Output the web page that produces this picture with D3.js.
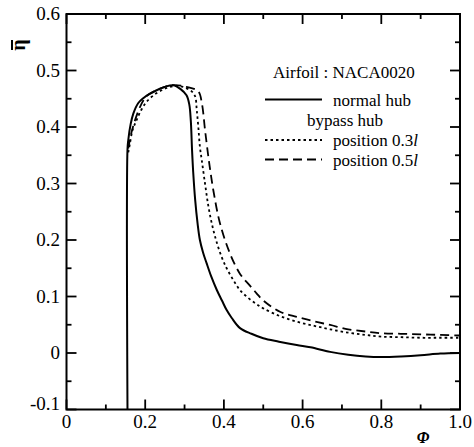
<!DOCTYPE html>
<html>
<head>
<meta charset="utf-8">
<script src="https://cdn.jsdelivr.net/npm/d3@7"></script>
<style>
  html, body { margin: 0; padding: 0; background: #fff; }
  svg { display: block; }
  text { font-family: 'Liberation Serif', 'Times New Roman', 'DejaVu Serif', serif; }
</style>
</head>
<body>
<svg id="chart" width="474" height="447"></svg>
<script>
// normal hub (solid)
const normalHub = [
  [0.155, -0.1], [0.155, 0.36], [0.157, 0.377], [0.163, 0.405], [0.170, 0.424], [0.182, 0.442],
  [0.195, 0.451], [0.21, 0.458], [0.229, 0.465], [0.25, 0.471], [0.271, 0.474], [0.29, 0.467],
  [0.305, 0.456], [0.312, 0.44], [0.316, 0.41], [0.319, 0.36], [0.322, 0.32], [0.327, 0.271],
  [0.333, 0.23], [0.339, 0.2], [0.347, 0.178], [0.356, 0.159], [0.368, 0.135], [0.382, 0.1115],
  [0.395, 0.093], [0.407, 0.076], [0.42, 0.062], [0.441, 0.044], [0.47, 0.034], [0.5, 0.026],
  [0.54, 0.02], [0.585, 0.014], [0.62, 0.01], [0.67, 0.002], [0.716, -0.003], [0.76, -0.006],
  [0.8, -0.007], [0.85, -0.006], [0.9, -0.004], [0.95, -0.001], [1.0, 0.0]
]

// bypass hub, position 0.3l (dotted)
const bypass03 = [
  [0.157, 0.355], [0.161, 0.37], [0.168, 0.395], [0.178, 0.412], [0.19, 0.43], [0.204, 0.445],
  [0.229, 0.46], [0.255, 0.469], [0.28, 0.473], [0.3, 0.47], [0.318, 0.463], [0.327, 0.454],
  [0.331, 0.43], [0.335, 0.4], [0.339, 0.365], [0.344, 0.34], [0.352, 0.3], [0.36, 0.262],
  [0.369, 0.23], [0.38, 0.2], [0.394, 0.1705], [0.407, 0.15], [0.424, 0.129], [0.44, 0.112],
  [0.458, 0.0997], [0.48, 0.088], [0.5, 0.079], [0.54, 0.066], [0.585, 0.0554], [0.63, 0.048],
  [0.67, 0.042], [0.716, 0.036], [0.76, 0.032], [0.8, 0.029], [0.85, 0.028], [0.9, 0.027],
  [0.95, 0.027], [1.0, 0.027]
]

// bypass hub, position 0.5l (dashed)
const bypass05 = [
  [0.157, 0.362], [0.165, 0.39], [0.177, 0.418], [0.19, 0.44], [0.204, 0.455], [0.238, 0.468],
  [0.27, 0.474], [0.305, 0.471], [0.335, 0.463], [0.344, 0.442], [0.352, 0.395], [0.36, 0.35],
  [0.366, 0.32], [0.373, 0.2885], [0.39, 0.2296], [0.4155, 0.176], [0.441, 0.14], [0.465, 0.12],
  [0.483, 0.1057], [0.5, 0.093], [0.5426, 0.073], [0.585, 0.064], [0.63, 0.056], [0.67, 0.0496],
  [0.716, 0.042], [0.76, 0.038], [0.8, 0.035], [0.85, 0.034], [0.9, 0.033], [0.95, 0.032],
  [1.0, 0.031]
]

const xTickLabels = ['0', '0.2', '0.4', '0.6', '0.8', '1.0']
const yTickLabels = ['-0.1', '0', '0.1', '0.2', '0.3', '0.4', '0.5', '0.6']

const series = [
  { name: 'normal hub', data: normalHub, dash: null },
  { name: 'position 0.3', data: bypass03, dash: '2.5,3' },
  { name: 'position 0.5', data: bypass05, dash: '9,5' }
]

const svg = d3.select('#chart')
const margin = { left: 66.5, right: 14, top: 14, bottom: 37.5 }
const W = 474, H = 447

const x = d3.scaleLinear().domain([0, 1]).range([margin.left, W - margin.right])
const y = d3.scaleLinear().domain([-0.1, 0.6]).range([H - margin.bottom, margin.top])

// 曲线
const line = d3.line().x(d => x(d[0])).y(d => y(d[1])).curve(d3.curveCatmullRom.alpha(0.5))

svg.append('g')
  .selectAll('path')
  .data(series)
  .join('path')
  .attr('d', d => line(d.data))
  .attr('fill', 'none')
  .attr('stroke', '#000')
  .attr('stroke-width', d => d.dash ? 1.8 : 2)
  .attr('stroke-dasharray', d => d.dash)

// 坐标轴 (刻度朝内)
const xMajor = d3.range(0, 1.0001, 0.2)
const xMinor = d3.range(0.1, 1, 0.2)
const yMajor = d3.range(-0.1, 0.6001, 0.1)
const yMinor = d3.range(-0.05, 0.6, 0.1)

const ticks = svg.append('g').attr('stroke', '#000').attr('stroke-width', 1.8)
const yBottom = y(-0.1), yTop = y(0.6), xLeft = x(0), xRight = x(1)

xMajor.concat(xMinor).forEach(v => {
  const len = xMinor.includes(v) ? 5 : 10
  ticks.append('line').attr('x1', x(v)).attr('x2', x(v)).attr('y1', yBottom).attr('y2', yBottom - len)
  ticks.append('line').attr('x1', x(v)).attr('x2', x(v)).attr('y1', yTop).attr('y2', yTop + len)
})
yMajor.forEach(v => {
  ticks.append('line').attr('y1', y(v)).attr('y2', y(v)).attr('x1', xLeft).attr('x2', xLeft + 10)
  ticks.append('line').attr('y1', y(v)).attr('y2', y(v)).attr('x1', xRight).attr('x2', xRight - 10)
})
yMinor.forEach(v => {
  ticks.append('line').attr('y1', y(v)).attr('y2', y(v)).attr('x1', xLeft).attr('x2', xLeft + 5)
  ticks.append('line').attr('y1', y(v)).attr('y2', y(v)).attr('x1', xRight).attr('x2', xRight - 5)
})

svg.append('rect')
  .attr('x', xLeft).attr('y', yTop)
  .attr('width', xRight - xLeft).attr('height', yBottom - yTop)
  .attr('fill', 'none').attr('stroke', '#000').attr('stroke-width', 2)

// 刻度文字
svg.append('g')
  .selectAll('text')
  .data(xTickLabels)
  .join('text')
  .attr('x', d => x(+d))
  .attr('y', 428)
  .attr('text-anchor', 'middle')
  .attr('font-size', '19px')
  .text(d => d)

svg.append('g')
  .selectAll('text')
  .data(yTickLabels)
  .join('text')
  .attr('x', 60)
  .attr('y', d => y(+d) + (d === '-0.1' ? 0 : 6))
  .attr('text-anchor', 'end')
  .attr('font-size', '19px')
  .text(d => d)

// 轴标题: 竖排 η 加上划线
const etaLabel = svg.append('g').attr('transform', 'translate(25,45) rotate(-90)')
etaLabel.append('text')
  .attr('x', 0)
  .attr('y', 0)
  .attr('text-anchor', 'middle')
  .attr('font-size', '20px')
  .attr('font-weight', 'bold')
  .text('\u03B7')
etaLabel.append('line')
  .attr('x1', -5).attr('x2', 5).attr('y1', -13).attr('y2', -13)
  .attr('stroke', '#000').attr('stroke-width', 2)

svg.append('text')
  .attr('x', 423)
  .attr('y', 443)
  .attr('text-anchor', 'middle')
  .attr('font-size', '16px')
  .attr('font-weight', 'bold')
  .attr('font-style', 'italic')
  .text('\u03A6')

// 图例
const legend = svg.append('g').attr('font-size', '17px')
legend.append('text').attr('x', 273).attr('y', 78).text('Airfoil : NACA0020')
legend.append('text').attr('x', 307).attr('y', 126).text('bypass hub')

const legendRows = [
  { s: series[0], y: 99.5, label: 'normal hub', italic: '' },
  { s: series[1], y: 140, label: 'position 0.3', italic: 'l' },
  { s: series[2], y: 159.5, label: 'position 0.5', italic: 'l' }
]
legendRows.forEach(r => {
  legend.append('line')
    .attr('x1', 265).attr('x2', 322).attr('y1', r.y).attr('y2', r.y)
    .attr('stroke', '#000').attr('stroke-width', r.s.dash ? 1.8 : 2)
    .attr('stroke-dasharray', r.s.dash)
  const t = legend.append('text').attr('x', 333).attr('y', r.y + 6).text(r.label)
  if (r.italic) t.append('tspan').attr('font-style', 'italic').text(r.italic)
})
</script>
</body>
</html>
